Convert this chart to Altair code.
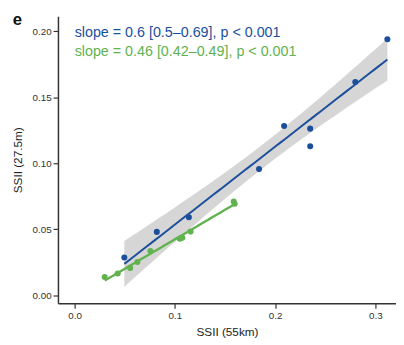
import altair as alt
import numpy as np
import pandas as pd

# Data
blue_x = [0.0496, 0.082, 0.114, 0.184, 0.209, 0.235, 0.235, 0.280, 0.312]
blue_y = [0.0286, 0.048, 0.0591, 0.0956, 0.1283, 0.1263, 0.113, 0.1616, 0.194]
green_x = [0.030, 0.043, 0.0554, 0.0626, 0.0756, 0.1049, 0.1075, 0.1157, 0.1587, 0.1597]
green_y = [0.0138, 0.0165, 0.0207, 0.0251, 0.0335, 0.0428, 0.0436, 0.0482, 0.0711, 0.0694]
x_ticks = [0.0, 0.1, 0.2, 0.3]
y_ticks = [0.0, 0.05, 0.10, 0.15, 0.20]
label_blue = "slope = 0.6 [0.5\u20130.69], p < 0.001"
label_green = "slope = 0.46 [0.42\u20130.49], p < 0.001"
panel_label = "e"

BLUE = "#1b4f9c"
GREEN = "#62b24f"
FONT = "Liberation Sans"


def fit(xs, ys, tcrit, n_grid=60):
    x = np.asarray(xs)
    y = np.asarray(ys)
    n = len(x)
    b, a = np.polyfit(x, y, 1)
    resid = y - (a + b * x)
    s = np.sqrt(np.sum(resid ** 2) / (n - 2))
    sxx = np.sum((x - x.mean()) ** 2)
    g = np.linspace(x.min(), x.max(), n_grid)
    yhat = a + b * g
    se = s * np.sqrt(1.0 / n + (g - x.mean()) ** 2 / sxx)
    return pd.DataFrame({"x": g, "y": yhat, "lo": yhat - tcrit * se, "hi": yhat + tcrit * se})


blue_fit = fit(blue_x, blue_y, 2.365)
green_fit = fit(green_x, green_y, 2.306)
blue_pts = pd.DataFrame({"x": blue_x, "y": blue_y})
green_pts = pd.DataFrame({"x": green_x, "y": green_y})

xs = alt.Scale(domain=[-0.0166, 0.3206], nice=False, zero=False)
ys = alt.Scale(domain=[-0.0062, 0.2115], nice=False, zero=False)

X = alt.X("x:Q", scale=xs, title="SSII (55km)",
          axis=alt.Axis(values=x_ticks, format=".1f", grid=False))
Y = alt.Y("y:Q", scale=ys, title="SSII (27.5m)",
          axis=alt.Axis(values=y_ticks, format=".2f", grid=False))

band = alt.Chart(blue_fit).mark_area(color="#999999", opacity=0.4).encode(
    x=alt.X("x:Q", scale=xs), y=alt.Y("lo:Q", scale=ys), y2="hi:Q")
blue_line = alt.Chart(blue_fit).mark_line(color=BLUE, strokeWidth=2).encode(x=X, y=Y)
blue_points = alt.Chart(blue_pts).mark_circle(color=BLUE, size=38, opacity=1).encode(x=X, y=Y)
green_line = alt.Chart(green_fit).mark_line(color=GREEN, strokeWidth=2.4).encode(x=X, y=Y)
green_points = alt.Chart(green_pts).mark_circle(color=GREEN, size=38, opacity=1).encode(x=X, y=Y)

t1 = alt.Chart(pd.DataFrame({"t": [label_blue]})).mark_text(
    align="left", baseline="middle", font=FONT, fontSize=14.6, color=BLUE).encode(
    x=alt.value(17), y=alt.value(17), text="t:N")
t2 = alt.Chart(pd.DataFrame({"t": [label_green]})).mark_text(
    align="left", baseline="middle", font=FONT, fontSize=14.6, color=GREEN).encode(
    x=alt.value(17), y=alt.value(37), text="t:N")
t3 = alt.Chart(pd.DataFrame({"t": [panel_label]})).mark_text(
    align="center", baseline="middle", font=FONT, fontSize=17, fontWeight="bold",
    color="#111111").encode(x=alt.value(-41.5), y=alt.value(4), text="t:N")

chart = alt.layer(band, blue_points, blue_line, green_points, green_line, t1, t2, t3).properties(
    width=345, height=293,
    autosize=alt.AutoSizeParams(type="none"),
    padding={"left": 51, "top": 5, "right": 0, "bottom": 36},
).configure_view(stroke=None).configure_axis(
    domainColor="#333333", domainWidth=1.5, tickColor="#333333", tickWidth=1.2,
    tickSize=5, labelFont=FONT, labelFontSize=10, labelColor="#333333",
    titleFont=FONT, titleFontSize=12, titleFontWeight="normal", titleColor="#222222",
    labelPadding=2,
).configure_axisY(titlePadding=8).configure_axisX(titlePadding=7)

chart.save("out.html", embed_options={"renderer": "svg", "actions": False})
